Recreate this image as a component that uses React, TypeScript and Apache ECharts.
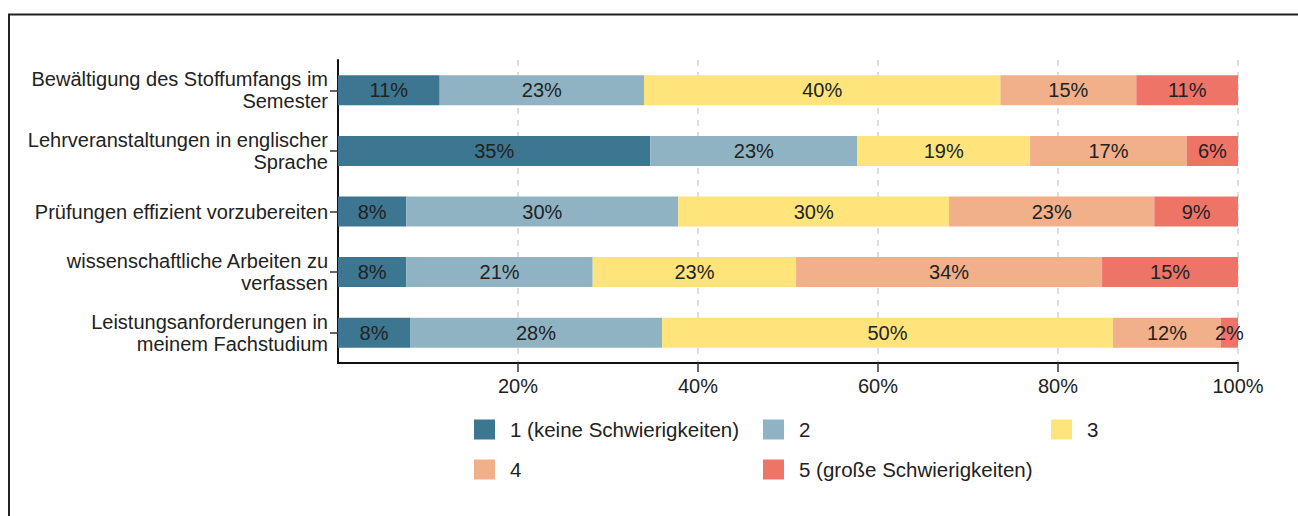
import React, { useEffect, useRef } from "react";
import * as echarts from "echarts";

const categories = [
  "Bewältigung des Stoffumfangs im\nSemester",
  "Lehrveranstaltungen in englischer\nSprache",
  "Prüfungen effizient vorzubereiten",
  "wissenschaftliche Arbeiten zu\nverfassen",
  "Leistungsanforderungen in\nmeinem Fachstudium",
];

const seriesNames = [
  "1 (keine Schwierigkeiten)",
  "2",
  "3",
  "4",
  "5 (große Schwierigkeiten)",
];

const level1 = [11.3, 34.7, 7.6, 7.6, 8.0];
const level2 = [22.7, 23.0, 30.2, 20.7, 28.0];
const level3 = [39.6, 19.2, 30.1, 22.6, 50.1];
const level4 = [15.1, 17.4, 22.8, 34.0, 12.0];
const level5 = [11.3, 5.7, 9.3, 15.1, 1.9];

const xTicks = [20, 40, 60, 80, 100];

const colors = ["#3C7690", "#8FB3C3", "#FEE47A", "#F1AF8A", "#EE7468"];

const FONT = "'Liberation Sans', Arial, sans-serif";

export default function App() {
  const ref = useRef<HTMLDivElement>(null);

  useEffect(() => {
    if (!ref.current) return;
    const chart = echarts.init(ref.current, null, { renderer: "svg" });
    const values = [level1, level2, level3, level4, level5];
    const legendPos = [
      [469, 414],
      [758, 414],
      [1046, 414],
      [469, 454],
      [758, 454],
    ];
    chart.setOption({
      animation: false,
      textStyle: { fontFamily: FONT },
      grid: { left: 338, right: 60, top: 60, bottom: 153, containLabel: false },
      xAxis: {
        type: "value",
        min: 0,
        max: 100,
        interval: 20,
        axisLine: { show: true, lineStyle: { color: "#111", width: 2 } },
        axisTick: {
          show: true,
          length: 9,
          customValues: xTicks,
          lineStyle: { color: "#333", width: 1.5 },
        },
        axisLabel: {
          fontSize: 20,
          color: "#222",
          fontFamily: FONT,
          margin: 13,
          customValues: xTicks,
          formatter: (v: number) => v + "%",
        },
        splitLine: {
          show: true,
          lineStyle: { color: "#d4d4d4", type: [6, 6], width: 1.5 },
        },
      },
      yAxis: {
        type: "category",
        inverse: true,
        data: categories,
        axisLine: { show: true, lineStyle: { color: "#111", width: 2 } },
        axisTick: {
          show: true,
          alignWithLabel: true,
          length: 8,
          lineStyle: { color: "#333", width: 1.5 },
        },
        axisLabel: {
          fontSize: 20,
          color: "#222",
          fontFamily: FONT,
          lineHeight: 22,
          margin: 10,
          align: "right",
        },
        splitLine: { show: false },
      },
      legend: seriesNames.map((n, i) => ({
        data: [n],
        left: legendPos[i][0],
        top: legendPos[i][1],
        icon: "rect",
        itemWidth: 21,
        itemHeight: 20,
        selectedMode: false,
        textStyle: {
          fontSize: 20.5,
          color: "#222",
          fontFamily: FONT,
          padding: [3, 0, 0, 10],
        },
      })),
      graphic: [
        {
          type: "rect",
          shape: { x: 9, y: 14.5, width: 1400, height: 600 },
          style: { fill: "none", stroke: "#222", lineWidth: 2 },
          silent: true,
        },
      ],
      series: seriesNames.map((n, i) => ({
        name: n,
        type: "bar",
        stack: "total",
        barWidth: 30,
        data: values[i],
        itemStyle: { color: colors[i] },
        label: {
          show: true,
          position: "inside",
          fontSize: 20,
          color: "#222",
          fontFamily: FONT,
          formatter: (p: any) => Math.round(p.value) + "%",
        },
      })),
    });
    return () => chart.dispose();
  }, []);

  return (
    <div
      ref={ref}
      style={{ position: "fixed", left: 0, top: 0, width: 1298, height: 516, background: "#fff" }}
    />
  );
}
